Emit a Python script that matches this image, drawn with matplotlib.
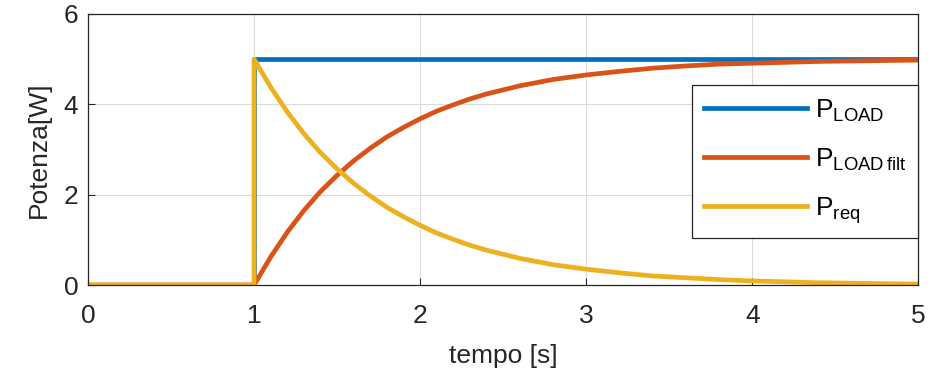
import numpy as np
import matplotlib.pyplot as plt

# values (tempo [s] -> potenza [W])
tempo = [0.0, 1.0, 1.0, 1.1, 1.2, 1.3, 1.4, 1.5, 1.6, 1.7, 1.8, 1.9, 2.0,
         2.1, 2.2, 2.3, 2.4, 2.5, 2.6, 2.7, 2.8, 2.9, 3.0,
         3.2, 3.4, 3.6, 3.8, 4.0, 4.2, 4.4, 4.6, 4.8, 5.0]
p_load = [0.0, 0.0, 5.0, 5.0, 5.0, 5.0, 5.0, 5.0, 5.0, 5.0, 5.0, 5.0, 5.0,
          5.0, 5.0, 5.0, 5.0, 5.0, 5.0, 5.0, 5.0, 5.0, 5.0,
          5.0, 5.0, 5.0, 5.0, 5.0, 5.0, 5.0, 5.0, 5.0, 5.0]
p_load_filt = [0.0, 0.0, 0.0, 0.62, 1.17, 1.65, 2.07, 2.43, 2.75, 3.03, 3.28, 3.49, 3.68,
               3.85, 3.99, 4.12, 4.23, 4.32, 4.41, 4.48, 4.55, 4.60, 4.65,
               4.73, 4.80, 4.85, 4.89, 4.91, 4.93, 4.95, 4.96, 4.97, 4.98]
p_req = [0.0, 0.0, 5.0, 4.38, 3.83, 3.35, 2.93, 2.57, 2.25, 1.97, 1.72, 1.51, 1.32,
         1.15, 1.01, 0.88, 0.77, 0.68, 0.59, 0.52, 0.45, 0.40, 0.35,
         0.27, 0.20, 0.16, 0.12, 0.09, 0.07, 0.05, 0.04, 0.03, 0.02]

plt.rcParams['font.family'] = 'Liberation Sans'
plt.rcParams['mathtext.fontset'] = 'custom'
plt.rcParams['mathtext.rm'] = 'Liberation Sans'

fig = plt.figure(figsize=(9.3, 3.78), dpi=100)
ax = fig.add_axes([0.0946, 0.246, 0.893, 0.717])

ax.plot(tempo, p_load, color='#0072BD', lw=3.4, label=r'P$_{\mathrm{LOAD}}$')
ax.plot(tempo, p_load_filt, color='#D95319', lw=3.4, label=r'P$_{\mathrm{LOAD\,filt}}$')
ax.plot(tempo, p_req, color='#EDB120', lw=3.4, label=r'P$_{\mathrm{req}}$')

ax.set_xlim(0, 5)
ax.set_ylim(0, 6)
ax.set_xticks([0, 1, 2, 3, 4, 5])
ax.set_yticks([0, 2, 4, 6])
ax.grid(True, color='#dcdcdc', lw=0.8)
ax.set_axisbelow(True)
ax.tick_params(direction='in', length=5, labelsize=19, colors='#262626', labelcolor='#262626')
ax.tick_params(axis='x', pad=14)
ax.tick_params(axis='y', pad=7)
for s in ax.spines.values():
    s.set_color('#262626')
    s.set_linewidth(0.9)

ax.set_xlabel('tempo [s]', fontsize=19, color='#262626', labelpad=11)
ax.set_ylabel('Potenza[W]', fontsize=19, color='#262626', labelpad=9)

leg = ax.legend(loc='upper right', bbox_to_anchor=(1.0, 0.737), borderaxespad=0,
                fontsize=19, handlelength=3.9, handletextpad=0.3, labelspacing=0.85,
                fancybox=False, framealpha=1, edgecolor='#262626', borderpad=0.45)
leg.get_frame().set_linewidth(0.9)

fig.savefig('out.png', dpi=100)
